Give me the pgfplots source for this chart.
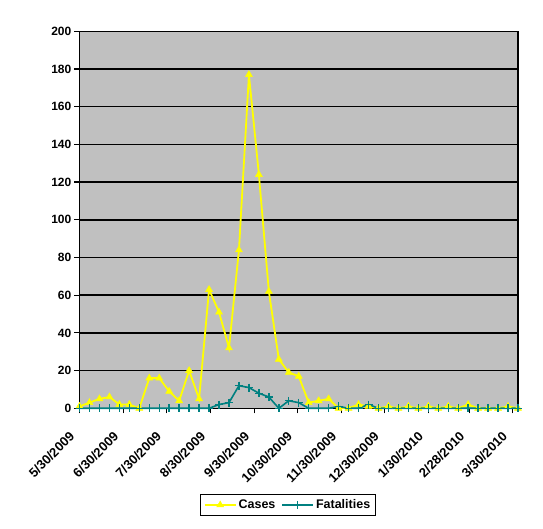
\documentclass[border=0pt]{standalone}
\usepackage{pgfplots}
\pgfplotsset{compat=1.18}
\usepackage{pgfplotstable}
\usepackage{fontspec}
\setmainfont{Liberation Sans}
\definecolor{bggray}{HTML}{C0C0C0}
\definecolor{cyel}{HTML}{FFFF00}
\definecolor{cteal}{HTML}{008080}

% day offset from 5/30/2009, cases, fatalities (weekly)
\pgfplotstableread{
day cases fatal
0 1 0
7 3 0
14 5 0
21 6 0
28 2 0
35 2 0
42 0 0
49 16 0
56 16 0
63 9 0
70 4 0
77 20 0
84 5 0
91 63 0
98 51 2
105 32 3
112 84 12
119 177 11
126 124 8
133 62 6
140 26 0
147 19 4
154 17 3
161 3 0
168 4 0
175 5 0
182 0 1
189 0 0
196 2 0
203 1 2
210 0 0
217 1 0
224 0 0
231 1 0
238 0 0
245 1 0
252 0 0
259 1 0
266 0 0
273 2 0
280 0 0
287 0 0
294 0 0
301 1 0
308 0 0
}\datatab

\begin{document}
\begin{tikzpicture}
\begin{axis}[
  width=438.5pt, height=377pt, scale only axis,
  xmin=0, xmax=308, ymin=0, ymax=200,
  clip=false,
  axis background/.style={fill=bggray},
  axis line style={black, line width=1.2pt},
  ytick={0,20,...,200},
  xtick={0,31,61,92,123,153,184,214,245,274,304},
  xticklabels={5/30/2009,6/30/2009,7/30/2009,8/30/2009,9/30/2009,10/30/2009,11/30/2009,12/30/2009,1/30/2010,2/28/2010,3/30/2010},
  tick align=outside,
  xtick pos=bottom, ytick pos=left,
  major tick length=5pt,
  tick style={black, line width=1.2pt},
  ymajorgrids,
  grid style={black, line width=1.5pt},
  /pgf/number format/assume math mode=true,
  tick label style={font=\fontsize{12}{14}\selectfont\bfseries},
  yticklabel style={inner sep=2pt, xshift=-1pt},
  xticklabel style={font=\fontsize{13}{15}\selectfont\bfseries, xshift=-11pt, yshift=-16pt, rotate=45, anchor=north east, inner sep=1pt},
  legend style={at={(0.4755,-0.2565)}, anchor=center, draw=black, line width=1.2pt,
    font=\fontsize{12.5}{14}\selectfont\bfseries, inner xsep=3pt, inner ysep=3pt,
    /tikz/every even column/.append style={column sep=4pt}},
  legend columns=2,
  legend cell align=left,
  legend image code/.code={\draw[mark repeat=2,mark phase=2] plot coordinates {(0pt,0pt) (15.5pt,0pt) (31pt,0pt)};},
]
\addplot[cyel, line width=1.8pt, mark=triangle*, mark size=4pt, mark options={fill=cyel, draw=cyel, line width=0.5pt}]
  table[x=day, y=cases]{\datatab};
\addlegendentry{Cases}
\addplot[cteal, line width=1.6pt, mark=+, mark size=4pt, mark options={cteal, line width=1.4pt}]
  table[x=day, y=fatal]{\datatab};
\addlegendentry{Fatalities}
\end{axis}
\pgfresetboundingbox
\path[use as bounding box] (-79.5pt,-120.7pt) rectangle (463.5pt,408.3pt);
\end{tikzpicture}
\end{document}
